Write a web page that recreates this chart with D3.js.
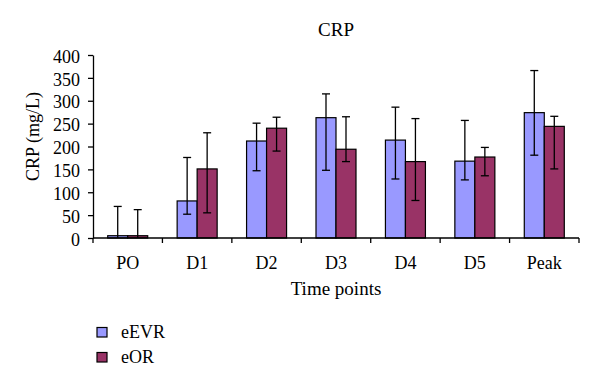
<!DOCTYPE html>
<html><head><meta charset="utf-8">
<script src="https://cdn.jsdelivr.net/npm/d3@7"></script>
<style>body{margin:0;background:#fff}svg{display:block}</style>
</head><body>
<svg id="c" width="600" height="390"></svg>
<script>
const categories = ["PO","D1","D2","D3","D4","D5","Peak"];
const seriesNames = ["eEVR","eOR"];
const eEVR = [5, 81, 212, 263, 214, 168, 274];
const eOR = [5, 151, 240, 194, 167, 177, 244];
const eEVRHigh = [69, 176, 251, 315, 286, 257, 366];
const eEVRLow = [0, 52, 147, 148, 129, 127, 181];
const eORHigh = [62, 230, 264, 265, 261, 198, 266];
const eORLow = [0, 55, 190, 167, 82, 136, 151];
const yTicks = [0,50,100,150,200,250,300,350,400];
const colors = ["#9999FF","#993366"];

const svg = d3.select("#c");
const font = "'Liberation Serif','Times New Roman',serif";
const FS = 18;
const L = 93, R = 579, T = 55, B = 238;
const x = d3.scaleBand().domain(categories).range([L,R]);
const y = d3.scaleLinear().domain([0,400]).range([B,T]);
const barW = 20;

const data = [eEVR, eOR], hi = [eEVRHigh, eORHigh], lo = [eEVRLow, eORLow];
const xs = d3.scaleBand().domain([0,1]).range([-barW, barW]);

seriesNames.forEach((s, si) => {
  const g = svg.append("g");
  categories.forEach((c, i) => {
    const cx = x(c) + x.bandwidth()/2 + xs(si);
    g.append("rect").attr("x", cx).attr("y", y(data[si][i]))
      .attr("width", barW).attr("height", y(0) - y(data[si][i]))
      .attr("fill", colors[si]).attr("stroke", "#000").attr("stroke-width", 1.2);
  });
});
// error bars
seriesNames.forEach((s, si) => {
  categories.forEach((c, i) => {
    const mx = x(c) + x.bandwidth()/2 + xs(si) + barW/2;
    const g = svg.append("g").attr("stroke", "#000").attr("stroke-width", 1.3);
    g.append("line").attr("x1", mx).attr("x2", mx).attr("y1", y(hi[si][i])).attr("y2", y(lo[si][i]));
    g.append("line").attr("x1", mx-4).attr("x2", mx+4).attr("y1", y(hi[si][i])).attr("y2", y(hi[si][i]));
    if (lo[si][i] > 0)
      g.append("line").attr("x1", mx-4).attr("x2", mx+4).attr("y1", y(lo[si][i])).attr("y2", y(lo[si][i]));
  });
});

// y axis
const ya = svg.append("g").attr("transform", `translate(${L},0)`)
  .call(d3.axisLeft(y).tickValues(yTicks).tickSize(5).tickSizeOuter(0).tickPadding(8));
ya.select(".domain").attr("stroke", "#000").attr("stroke-width", 1.3);
ya.selectAll(".tick line").attr("stroke-width", 1.3);
ya.selectAll("text").attr("font-family", font).attr("font-size", FS).attr("fill", "#000").attr("dy", "0.4em");

// x axis
const xa = svg.append("g").attr("transform", `translate(0,${B})`);
xa.append("line").attr("x1", L).attr("x2", R).attr("y1", 0).attr("y2", 0).attr("stroke", "#000").attr("stroke-width", 1.3);
const tickPos = categories.map(c => x(c)).concat([R]);
xa.selectAll(".tk").data(tickPos).enter().append("line")
  .attr("x1", d => d).attr("x2", d => d).attr("y1", 0).attr("y2", 5).attr("stroke", "#000").attr("stroke-width", 1.3);
xa.selectAll(".lb").data(categories).enter().append("text")
  .attr("x", d => x(d) + x.bandwidth()/2).attr("y", 30.5)
  .attr("text-anchor", "middle").attr("font-family", font).attr("font-size", FS).text(d => d);

// titles
svg.append("text").attr("x", (L+R)/2).attr("y", 36).attr("text-anchor", "middle")
  .attr("font-family", font).attr("font-size", 19).text("CRP");
svg.append("text").attr("transform", `translate(39,${(T+B)/2 - 10}) rotate(-90)`).attr("text-anchor", "middle")
  .attr("font-family", font).attr("font-size", FS).text("CRP (mg/L)");
svg.append("text").attr("x", (L+R)/2).attr("y", 295).attr("text-anchor", "middle")
  .attr("font-family", font).attr("font-size", 19).text("Time points");

// legend
seriesNames.forEach((s, si) => {
  const ly = 327.5 + si * 25;
  svg.append("rect").attr("x", 97).attr("y", ly).attr("width", 10).attr("height", 9.5)
    .attr("fill", colors[si]).attr("stroke", "#000").attr("stroke-width", 1.2);
  svg.append("text").attr("x", 121).attr("y", ly + 10).attr("font-family", font)
    .attr("font-size", FS).text(s);
});
</script>
</body></html>
